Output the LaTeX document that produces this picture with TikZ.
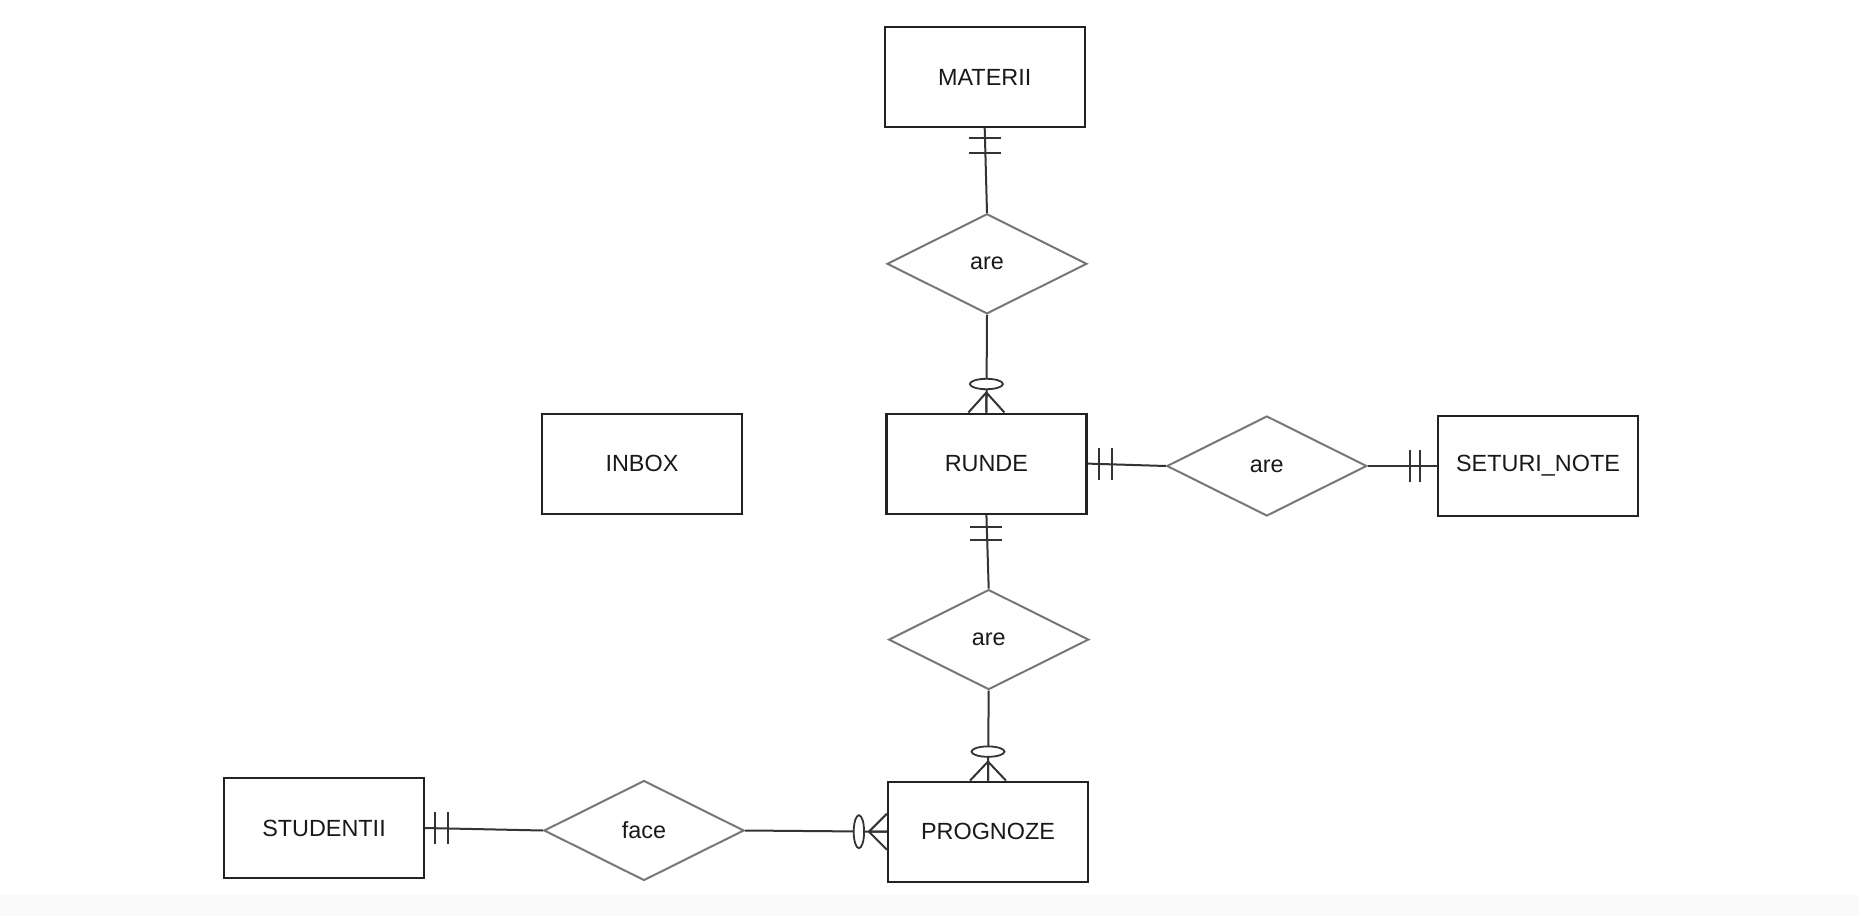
\documentclass[tikz,border=0pt]{standalone}
\usepackage{fontspec}
\setmainfont{Liberation Sans}
\usetikzlibrary{shapes.geometric,calc}
\definecolor{ent}{HTML}{222222}
\definecolor{relc}{HTML}{777777}
\definecolor{conn}{HTML}{333333}
\definecolor{band}{HTML}{FAFAFA}
\begin{document}
\begin{tikzpicture}[x=0.5pt,y=-0.5pt,
  entity/.style={draw=ent,line width=1.1pt,minimum width=100pt,minimum height=50pt,inner sep=0pt,font=\fontsize{11.7}{14}\selectfont,text=black!90},
  relbox/.style={diamond,draw=relc,line width=1pt,minimum width=100pt,minimum height=50pt,inner sep=0pt,font=\fontsize{11.7}{14}\selectfont,text=black!90},
  conn/.style={draw=conn,line width=1pt},
  oring/.style={draw=conn,line width=0.9pt,fill=white}
]
\useasboundingbox (0,0) rectangle (1859,916);
\fill[white] (0,0) rectangle (1859,895);
\fill[band] (0,895) rectangle (1859,916);

% entities
\node[entity] (M) at (984.7,77) {MATERII};
\node[entity] (RU) at (986.4,463.6) {RUNDE};
\node[entity] (IN) at (642,463.6) {INBOX};
\node[entity] (S) at (1538,466) {SETURI\_NOTE};
\node[entity] (P) at (988,831.7) {PROGNOZE};
\node[entity] (ST) at (324,828) {STUDENTII};

% relationships
\node[relbox] (R1) at (987,263.8) {are};
\node[relbox] (R2) at (1266.8,466) {are};
\node[relbox] (R3) at (988.7,639.6) {are};
\node[relbox] (R4) at (644,830.5) {face};

% MATERII -- are -- RUNDE
\draw[conn] (M.south) -- (R1.north);
\draw[conn] ($(M.south)+(-16,10)$) -- ++(32,0);
\draw[conn] ($(M.south)+(-16,25)$) -- ++(32,0);
\draw[conn] (R1.south) -- (RU.north);
\draw[conn] ($(RU.north)+(0,-20)$) coordinate (c1) -- ($(RU.north)+(-18,0)$)
  (c1) -- (RU.north) (c1) -- ($(RU.north)+(18,0)$);
\draw[oring] ($(RU.north)+(0,-28.5)$) ellipse [x radius=8.25pt, y radius=2.6pt];

% RUNDE -- are -- SETURI_NOTE
\draw[conn] (RU.east) -- (R2.west);
\draw[conn] ($(RU.east)+(11,-16)$) -- ++(0,32);
\draw[conn] ($(RU.east)+(24,-16)$) -- ++(0,32);
\draw[conn] (R2.east) -- (S.west);
\draw[conn] ($(S.west)+(-27,-16)$) -- ++(0,32);
\draw[conn] ($(S.west)+(-16.5,-16)$) -- ++(0,32);

% RUNDE -- are -- PROGNOZE
\draw[conn] (RU.south) -- (R3.north);
\draw[conn] ($(RU.south)+(-16,12)$) -- ++(32,0);
\draw[conn] ($(RU.south)+(-16,25)$) -- ++(32,0);
\draw[conn] (R3.south) -- (P.north);
\draw[conn] ($(P.north)+(0,-19)$) coordinate (c2) -- ($(P.north)+(-18,0)$)
  (c2) -- (P.north) (c2) -- ($(P.north)+(18,0)$);
\draw[oring] ($(P.north)+(0,-29)$) ellipse [x radius=8.25pt, y radius=2.6pt];

% STUDENTII -- face -- PROGNOZE
\draw[conn] (ST.east) -- (R4.west);
\draw[conn] ($(ST.east)+(10,-16)$) -- ++(0,32);
\draw[conn] ($(ST.east)+(23,-16)$) -- ++(0,32);
\draw[conn] (R4.east) -- (P.west);
\draw[conn] ($(P.west)+(-18,0)$) coordinate (c3) -- ($(P.west)+(0,-18)$)
  (c3) -- (P.west) (c3) -- ($(P.west)+(0,18)$);
\draw[oring] ($(P.west)+(-28,0)$) ellipse [x radius=2.6pt, y radius=8.25pt];
\end{tikzpicture}
\end{document}
